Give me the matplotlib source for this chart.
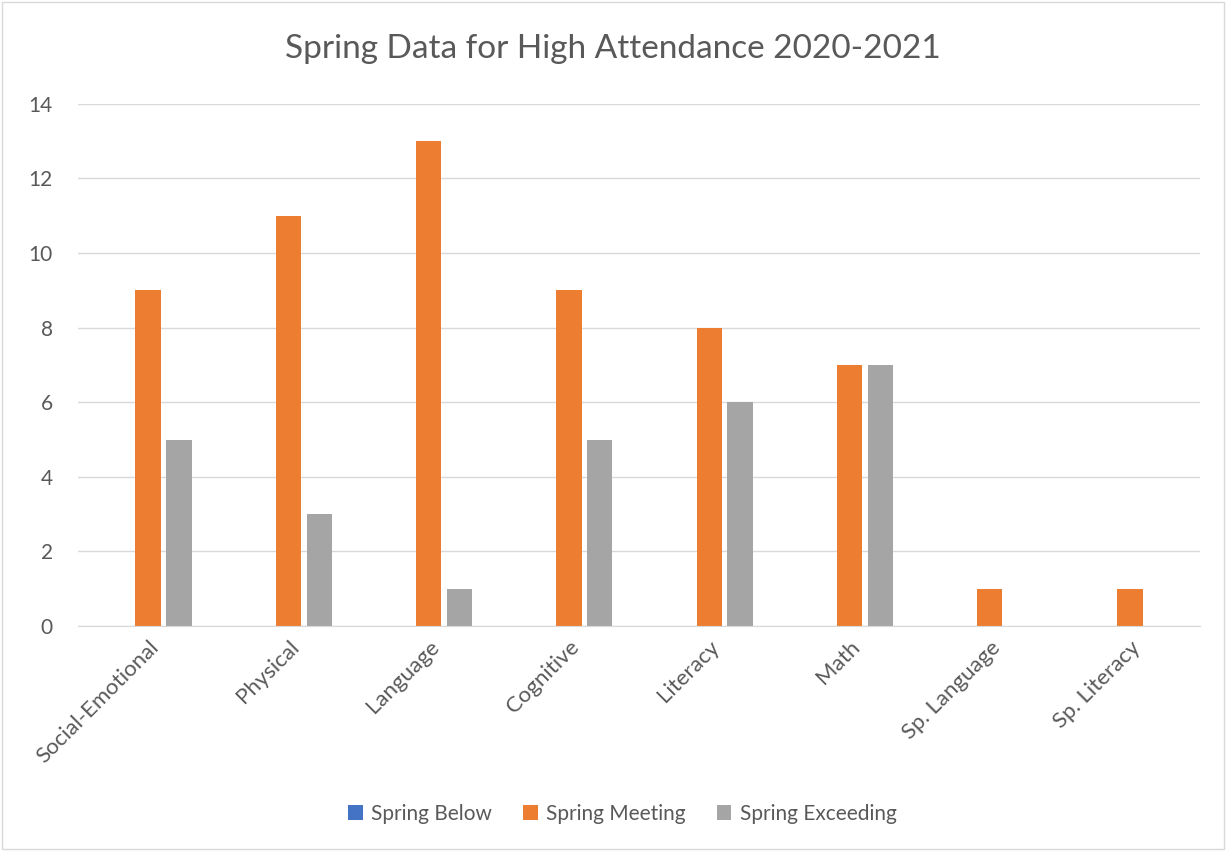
import numpy as np
import matplotlib.pyplot as plt

categories = ["Social-Emotional", "Physical", "Language", "Cognitive",
              "Literacy", "Math", "Sp. Language", "Sp. Literacy"]
spring_below = [0, 0, 0, 0, 0, 0, 0, 0]
spring_meeting = [9, 11, 13, 9, 8, 7, 1, 1]
spring_exceeding = [5, 3, 1, 5, 6, 7, 0, 0]

series = [
    ("Spring Below", spring_below, "#4472C4"),
    ("Spring Meeting", spring_meeting, "#ED7D31"),
    ("Spring Exceeding", spring_exceeding, "#A5A5A5"),
]

plt.rcParams['font.family'] = ['Lato', 'DejaVu Sans']
text_col = "#595959"

fig = plt.figure(figsize=(12.26, 8.51), dpi=100)
ax = fig.add_axes([0.0636, 0.2644, 0.9154, 0.6136])

x = np.arange(len(categories))
step = 0.22
width = 0.18
for i, (name, vals, col) in enumerate(series):
    ax.bar(x + (i - 1) * step, vals, width=width, color=col, label=name)

ax.set_xlim(-0.5, len(categories) - 0.5)
ax.set_ylim(0, 14)
ax.set_yticks(range(0, 15, 2))
ax.yaxis.grid(True, color="#D9D9D9", linewidth=1)
ax.set_axisbelow(True)
for s in ["top", "right", "left"]:
    ax.spines[s].set_visible(False)
ax.spines["bottom"].set_color("#D9D9D9")
ax.tick_params(axis="y", length=0, colors=text_col, labelsize=15, pad=18)
ax.tick_params(axis="x", length=0, colors=text_col, labelsize=16, pad=8)
ax.set_xticks(x)
ax.set_xticklabels(categories, rotation=45, ha="right", rotation_mode="anchor")

fig.suptitle("Spring Data for High Attendance 2020-2021", y=0.96,
             fontsize=24, color=text_col)

ax.legend(loc="upper center", bbox_to_anchor=(0.485, -0.305), ncol=3,
          frameon=False, fontsize=15, labelcolor=text_col,
          handlelength=0.7, handleheight=0.7, handletextpad=0.4,
          columnspacing=1.5)

fig.patches.append(plt.Rectangle((0.002, 0.002), 0.996, 0.996,
                                 transform=fig.transFigure, fill=False,
                                 edgecolor="#D9D9D9", linewidth=1))

fig.savefig("out.png", dpi=100)
